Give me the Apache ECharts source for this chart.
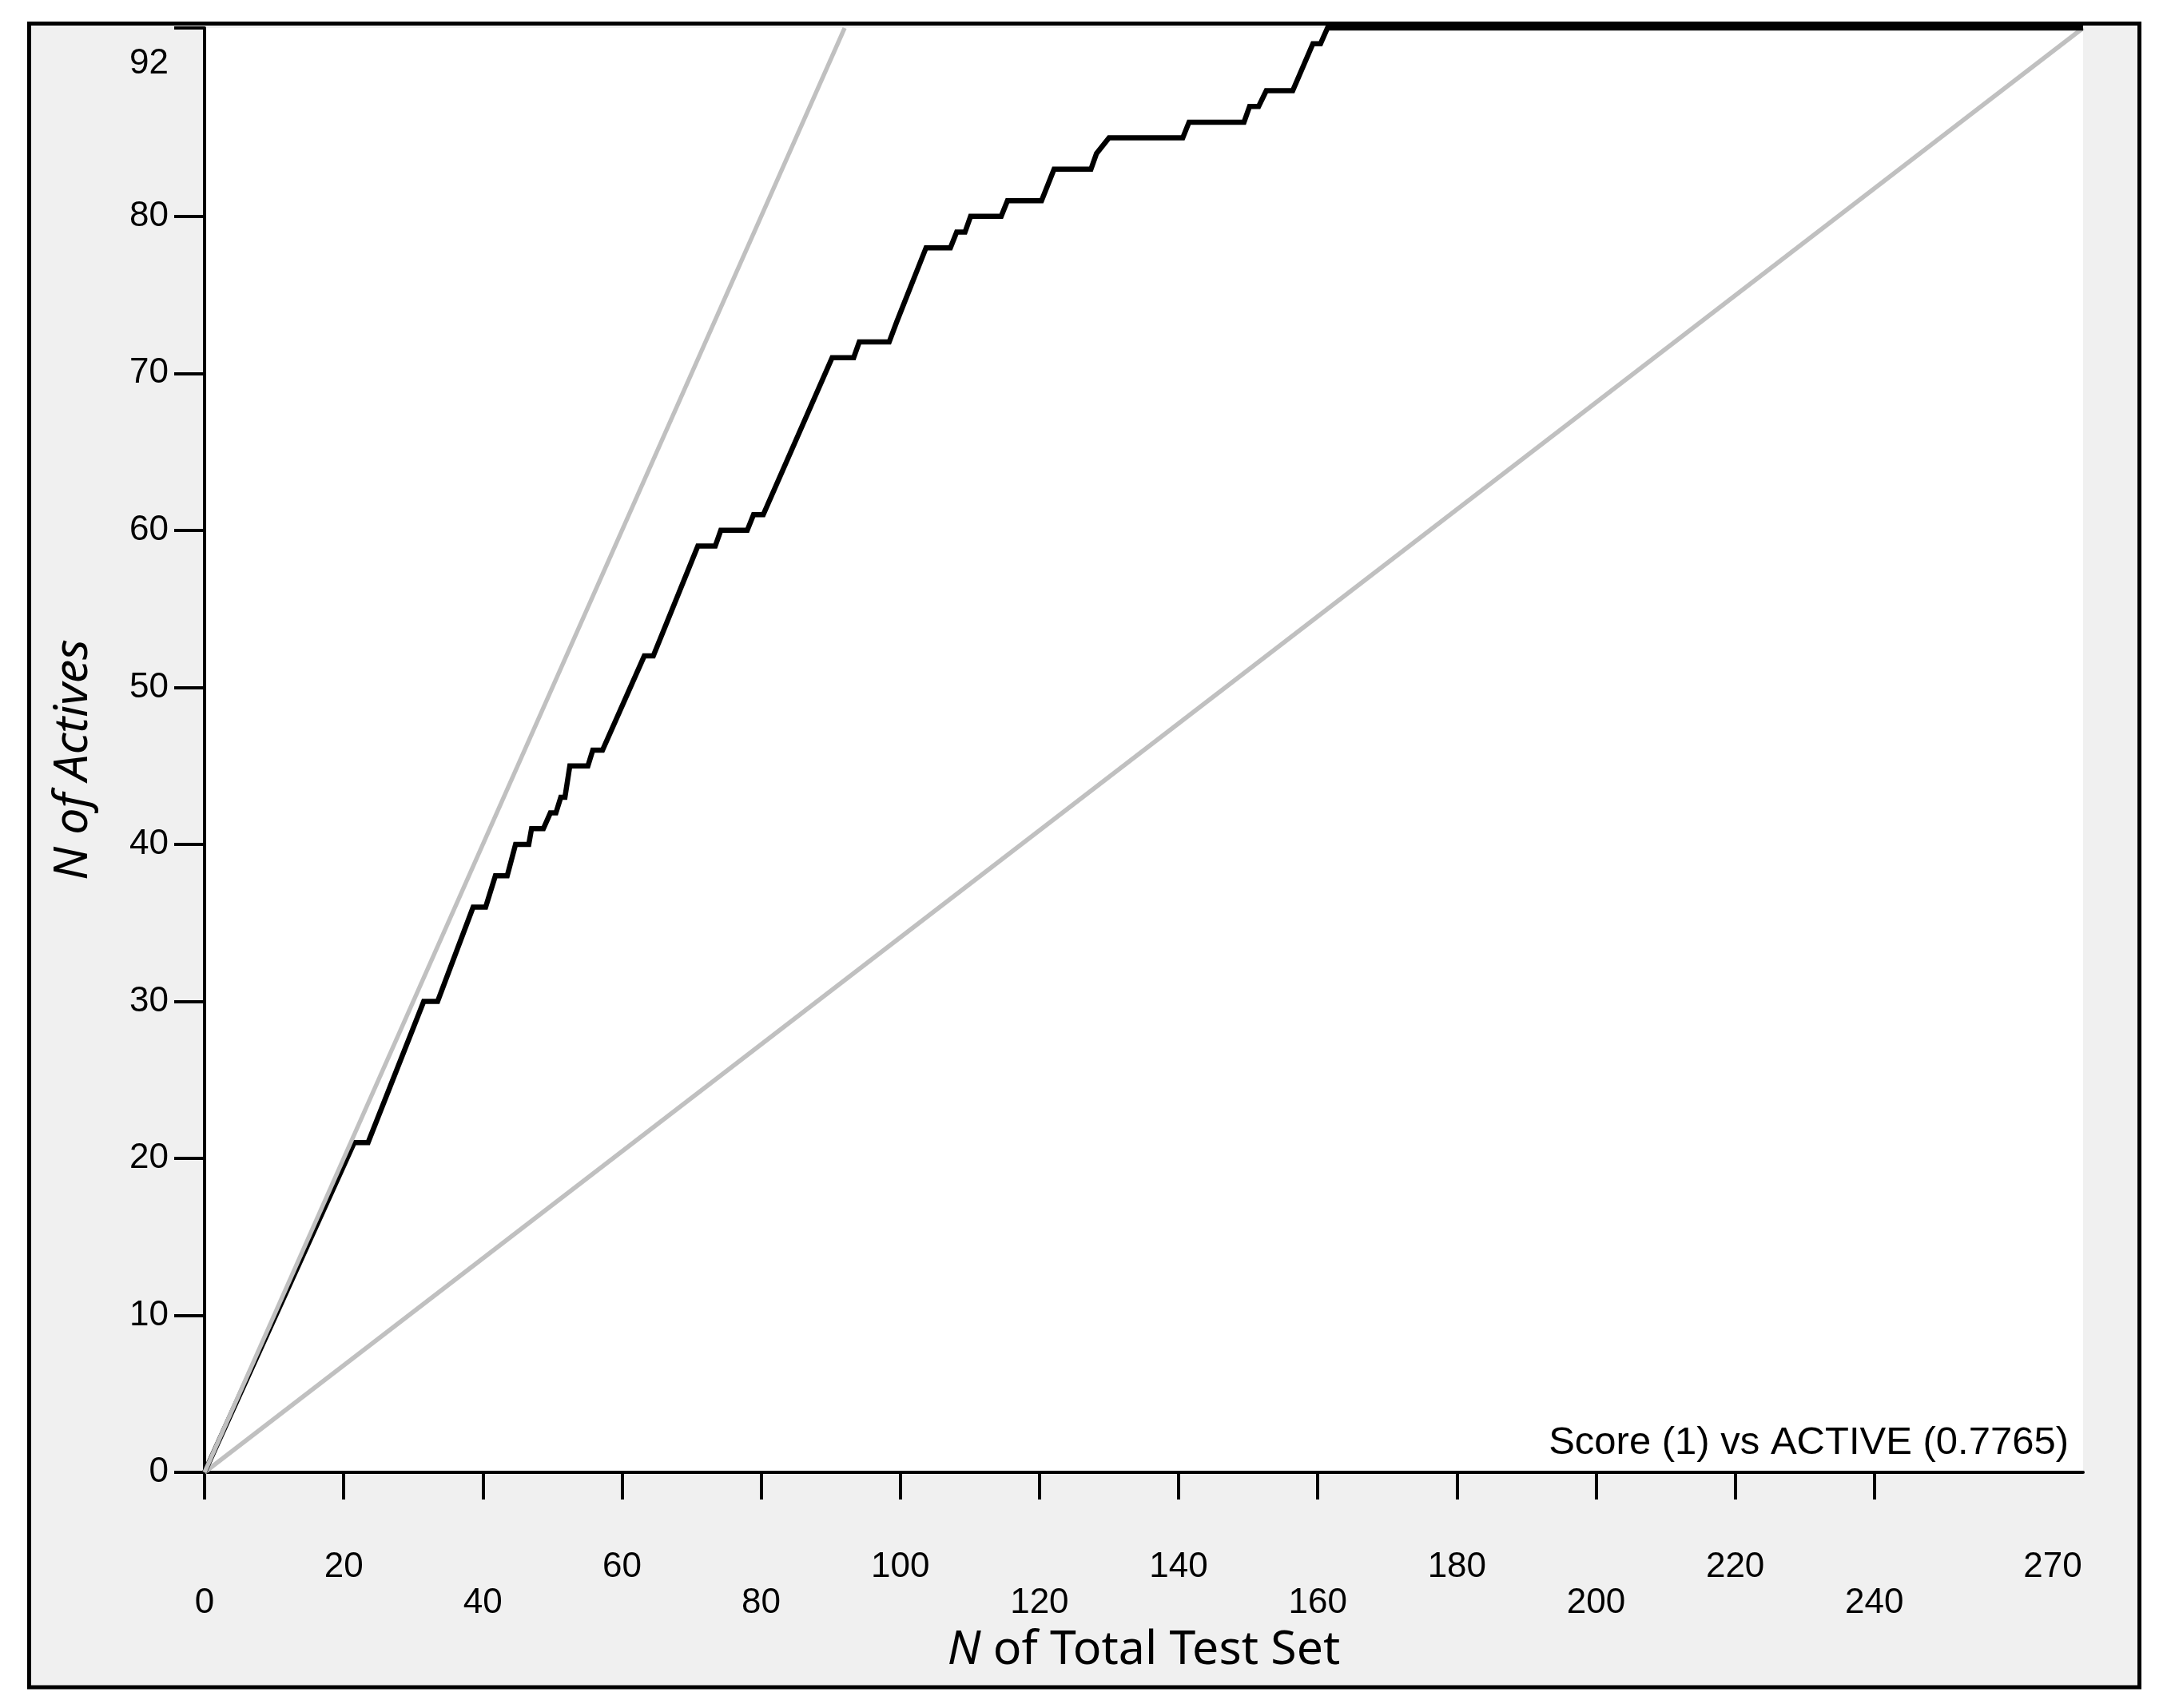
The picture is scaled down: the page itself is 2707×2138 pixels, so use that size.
<!DOCTYPE html>
<html><head><meta charset="utf-8">
<script src="https://cdn.jsdelivr.net/npm/echarts@6/dist/echarts.min.js"></script>
<style>html,body{margin:0;padding:0;background:#fff;} #c{width:2707px;height:2138px;}</style>
</head><body><div id="c"></div>
<script>
// ---- data ----
const xTickValues = [0, 20, 40, 60, 80, 100, 120, 140, 160, 180, 200, 220, 240];
const xLabelValues = [0, 20, 40, 60, 80, 100, 120, 140, 160, 180, 200, 220, 240, 270];
const yTickValues = [0, 10, 20, 30, 40, 50, 60, 70, 80, 92];
const activeX = [0, 21.5, 23.5, 31.5, 33.5, 38.6, 40.4, 41.8, 43.5, 44.7, 46.6, 47.0, 48.7, 49.7, 50.5, 51.2, 51.8, 52.5, 55.1, 55.8, 57.2, 63.2, 64.5, 70.9, 73.4, 74.2, 78.0, 78.9, 80.3, 90.2, 93.3, 94.1, 98.4, 99.5, 103.7, 107.2, 108.1, 109.3, 110.1, 114.5, 115.4, 120.3, 122.1, 127.4, 128.2, 130.0, 140.6, 141.5, 149.4, 150.2, 151.5, 152.6, 156.4, 159.3, 160.4, 161.4, 270];
const activeY = [0, 21, 21, 30, 30, 36, 36, 38, 38, 40, 40, 41, 41, 42, 42, 43, 43, 45, 45, 46, 46, 52, 52, 59, 59, 60, 60, 61, 61, 71, 71, 72, 72, 73.3, 78, 78, 79, 79, 80, 80, 81, 81, 83, 83, 84, 85, 85, 86, 86, 87, 87, 88, 88, 91, 91, 92, 92];
const idealX = [0, 92];
const idealY = [0, 92];
const randomX = [0, 270];
const randomY = [0, 92];
const curveLabel = 'Score (1) vs ACTIVE (0.7765)';
const xAxisTitle = ['N', ' of Total Test Set'];
const yAxisTitle = 'N of Actives';

// ---- chart ----
const TICK_FONT = '"Liberation Sans", Arial, sans-serif';
const NAME_FONT = '"Noto Sans", "Open Sans", sans-serif';
const pairs = (xs, ys) => xs.map((x, i) => [x, ys[i]]);
const tickStyle = { fontSize: 44, fontFamily: TICK_FONT, color: '#000' };

const chart = echarts.init(document.getElementById('c'), null, { renderer: 'canvas' });
chart.setOption({
  animation: false,
  backgroundColor: '#ffffff',
  graphic: [{
    type: 'rect', z: -100, silent: true,
    shape: { x: 36.5, y: 29.5, width: 2641, height: 2082.5 },
    style: { fill: '#f0f0f0', stroke: '#000', lineWidth: 5 }
  }],
  title: {
    text: curveLabel, right: 118, top: 1782, padding: 0,
    textStyle: { fontSize: 49, fontWeight: 'normal', fontFamily: TICK_FONT, color: '#000' }
  },
  grid: {
    left: 256, top: 35, width: 2351, height: 1808,
    show: true, backgroundColor: '#ffffff', borderWidth: 0
  },
  xAxis: {
    type: 'value', min: 0, max: 270, offset: 10,
    name: '{i|' + xAxisTitle[0] + '}{r|' + xAxisTitle[1] + '}',
    nameLocation: 'middle', nameGap: 184,
    nameTextStyle: {
      fontSize: 59, fontFamily: NAME_FONT, color: '#000',
      rich: {
        i: { fontSize: 59, fontFamily: NAME_FONT, fontStyle: 'italic', color: '#000' },
        r: { fontSize: 59, fontFamily: NAME_FONT, color: '#000' }
      }
    },
    splitLine: { show: false },
    axisLine: { show: true, lineStyle: { color: '#000', width: 4 } },
    axisTick: { show: true, customValues: xTickValues, length: 34, inside: false, lineStyle: { color: '#000', width: 4 } },
    axisLabel: {
      show: true, customValues: xLabelValues, margin: 87, hideOverlap: false,
      showMinLabel: true, showMaxLabel: true,
      formatter: function (v) {
        const i = xLabelValues.indexOf(v);
        if (i === xLabelValues.length - 1) return '{e|' + v + '}';
        return (i % 2 === 1) ? '{u|' + v + '}' : '{d|' + v + '}';
      },
      rich: {
        u: Object.assign({}, tickStyle),
        d: Object.assign({ padding: [45, 0, 0, 0] }, tickStyle),
        e: Object.assign({ padding: [0, 76, 0, 0] }, tickStyle)
      }
    }
  },
  yAxis: {
    type: 'value', min: 0, max: 92,
    name: yAxisTitle, nameLocation: 'middle', nameGap: 134,
    nameTextStyle: { fontSize: 59, fontFamily: NAME_FONT, fontStyle: 'italic', color: '#000', padding: [0, 24, 0, 0] },
    splitLine: { show: false },
    axisLine: { show: true, lineStyle: { color: '#000', width: 4 } },
    axisTick: { show: true, customValues: yTickValues, length: 38, inside: false, lineStyle: { color: '#000', width: 4 } },
    axisLabel: {
      show: true, customValues: yTickValues, margin: 45, hideOverlap: false,
      showMinLabel: true, showMaxLabel: true,
      formatter: function (v) {
        return v === yTickValues[yTickValues.length - 1] ? '{t|' + v + '}' : '{n|' + v + '}';
      },
      rich: {
        n: Object.assign({}, tickStyle),
        t: Object.assign({ padding: [90, 0, 0, 0] }, tickStyle)
      }
    }
  },
  series: [
    {
      type: 'line', name: 'random', data: pairs(randomX, randomY), showSymbol: false, clip: false, z: 2,
      lineStyle: { color: '#c0c0c0', width: 5.5 }
    },
    {
      type: 'line', name: curveLabel, data: pairs(activeX, activeY), showSymbol: false, clip: false, z: 3,
      lineStyle: { color: '#000000', width: 6.5, join: 'miter' }
    },
    {
      type: 'line', name: 'ideal', data: pairs(idealX, idealY), showSymbol: false, clip: false, z: 4,
      lineStyle: { color: '#c0c0c0', width: 5.5 }
    }
  ]
});
</script>
</body></html>
